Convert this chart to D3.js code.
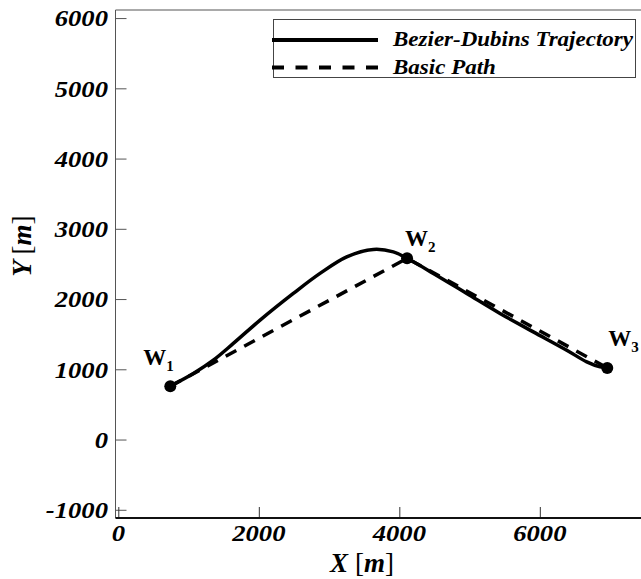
<!DOCTYPE html>
<html>
<head>
<meta charset="utf-8">
<script src="https://cdn.jsdelivr.net/npm/d3@7"></script>
<style>
    body { margin: 0; background: #fff; }
    svg { display: block; }
    .tick-label { font-family: "Liberation Serif", "Times New Roman", serif; font-weight: bold; font-style: italic; font-size: 24px; fill: #000; }
    .legend-label { font-family: "Liberation Serif", "Times New Roman", serif; font-weight: bold; font-style: italic; font-size: 20px; fill: #000; }
    .axis-title { font-family: "Liberation Serif", "Times New Roman", serif; font-size: 27px; fill: #000; }
    .wp-label { font-family: "Liberation Serif", "Times New Roman", serif; font-weight: bold; font-size: 23px; fill: #000; }
</style>
</head>
<body>
<div id="chart"></div>
<script>
// waypoints
const wpNames = ['1', '2', '3'];
const wpX     = [740, 4110, 6960];
const wpY     = [760, 2580, 1020];

// bezier-dubins trajectory
const trajX = [740, 1068, 1352, 1637, 2018, 2491, 2871, 3251, 3630, 3915, 4110, 4484, 4959, 5433, 5907, 6383, 6668, 6857, 6960];
const trajY = [760,  940, 1130, 1368, 1700, 2080, 2365, 2601, 2707, 2672, 2580, 2365, 2080, 1795, 1533, 1272, 1105, 1034, 1020];

const xTicks = [0, 2000, 4000, 6000];
const yTicks = [-1000, 0, 1000, 2000, 3000, 4000, 5000, 6000];
const legendNames = ['Bezier-Dubins Trajectory', 'Basic Path'];

const width  = 641;
const height = 579;

// the source image is a bit stretched sideways
const tickStretch   = 1.11;
const legendStretch = 1.15;

const svg = d3.select('#chart').append('svg')
    .attr('width', width)
    .attr('height', height);

const x = d3.scaleLinear().domain([-40, 7480]).range([115.5, 643.8]);
const y = d3.scaleLinear().domain([-1117, 6115]).range([518, 10]);

// spines
svg.append('line')
    .attr('x1', x.range()[0]).attr('x2', width)
    .attr('y1', y.range()[1]).attr('y2', y.range()[1])
    .attr('stroke', '#555').attr('stroke-width', 1);
svg.append('line')
    .attr('x1', x.range()[0]).attr('x2', x.range()[0])
    .attr('y1', y.range()[1]).attr('y2', y.range()[0])
    .attr('stroke', '#555').attr('stroke-width', 1);

// y axis: inward ticks, labels on the left
const yAxis = svg.append('g')
    .attr('transform', `translate(${x.range()[0]},0)`)
    .call(d3.axisRight(y).tickValues(yTicks).tickSize(11).tickFormat(''));
yAxis.select('.domain').remove();
yAxis.selectAll('.tick line').attr('stroke', '#555');

svg.selectAll('.y-label')
    .data(yTicks)
    .enter().append('text')
        .attr('class', 'tick-label y-label')
        .attr('transform', d => `translate(108,${y(d)}) scale(${tickStretch},1)`)
        .attr('dy', '0.35em')
        .attr('text-anchor', 'end')
        .text(d => d);

// x axis: inward ticks, labels below
const xAxis = svg.append('g')
    .attr('transform', `translate(0,${y.range()[0]})`)
    .call(d3.axisTop(x).tickValues(xTicks).tickSize(11).tickFormat(''));
xAxis.select('.domain').remove();
xAxis.selectAll('.tick line').attr('stroke', '#333');

svg.append('line')
    .attr('x1', x.range()[0]).attr('x2', width)
    .attr('y1', y.range()[0]).attr('y2', y.range()[0])
    .attr('stroke', '#111').attr('stroke-width', 2);

svg.selectAll('.x-label')
    .data(xTicks)
    .enter().append('text')
        .attr('class', 'tick-label x-label')
        .attr('transform', d => `translate(${x(d)},541) scale(${tickStretch},1)`)
        .attr('text-anchor', 'middle')
        .text(d => d);

// axis titles
const xTitle = svg.append('text')
    .attr('class', 'axis-title')
    .attr('x', 362)
    .attr('y', 572)
    .attr('text-anchor', 'middle');
xTitle.append('tspan').attr('font-weight', 'bold').attr('font-style', 'italic').text('X ');
xTitle.append('tspan').text('[');
xTitle.append('tspan').attr('font-weight', 'bold').attr('font-style', 'italic').text('m');
xTitle.append('tspan').text(']');

const yTitle = svg.append('text')
    .attr('class', 'axis-title')
    .attr('transform', 'translate(31,246) rotate(-90)')
    .attr('text-anchor', 'middle');
yTitle.append('tspan').attr('font-weight', 'bold').attr('font-style', 'italic').text('Y ');
yTitle.append('tspan').text('[');
yTitle.append('tspan').attr('font-weight', 'bold').attr('font-style', 'italic').text('m');
yTitle.append('tspan').text(']');

// paths
const waypoints = wpX.map((d, i) => ({ x: d, y: wpY[i], name: wpNames[i] }));
const traj = trajX.map((d, i) => ({ x: d, y: trajY[i] }));

const lineGen = d3.line()
    .x(d => x(d.x))
    .y(d => y(d.y));

svg.append('path')
    .datum(waypoints)
    .attr('d', lineGen)
    .attr('fill', 'none')
    .attr('stroke', '#000')
    .attr('stroke-width', 3.5)
    .attr('stroke-dasharray', '12,9');

svg.append('path')
    .datum(traj)
    .attr('d', lineGen.curve(d3.curveCatmullRom))
    .attr('fill', 'none')
    .attr('stroke', '#000')
    .attr('stroke-width', 3.5);

svg.selectAll('.wp')
    .data(waypoints)
    .enter().append('circle')
        .attr('class', 'wp')
        .attr('cx', d => x(d.x))
        .attr('cy', d => y(d.y))
        .attr('r', 6)
        .attr('fill', '#000');

// waypoint labels, offsets in px from the dot
const labelOffsets = [[-27, -21], [-2, -12], [1, -22]];
waypoints.forEach((d, i) => {
    const t = svg.append('text')
        .attr('class', 'wp-label')
        .attr('x', x(d.x) + labelOffsets[i][0])
        .attr('y', y(d.y) + labelOffsets[i][1]);
    t.append('tspan').text('W');
    t.append('tspan').attr('font-size', '15px').attr('dy', 6).text(d.name);
});

// legend
const legend = svg.append('g');
legend.append('rect')
    .attr('x', 273.5).attr('y', 19.5)
    .attr('width', 362).attr('height', 58)
    .attr('fill', '#fff').attr('stroke', '#444').attr('stroke-width', 1);

legendNames.forEach((name, i) => {
    const ly = 40 + i * 27.5;
    legend.append('line')
        .attr('x1', 272).attr('x2', 378)
        .attr('y1', ly).attr('y2', ly)
        .attr('stroke', '#000')
        .attr('stroke-width', 4)
        .attr('stroke-dasharray', i === 1 ? '12,11.5' : null);
    legend.append('text')
        .attr('class', 'legend-label')
        .attr('transform', `translate(393,${ly + 6}) scale(${legendStretch},1)`)
        .text(name);
});
</script>
</body>
</html>
